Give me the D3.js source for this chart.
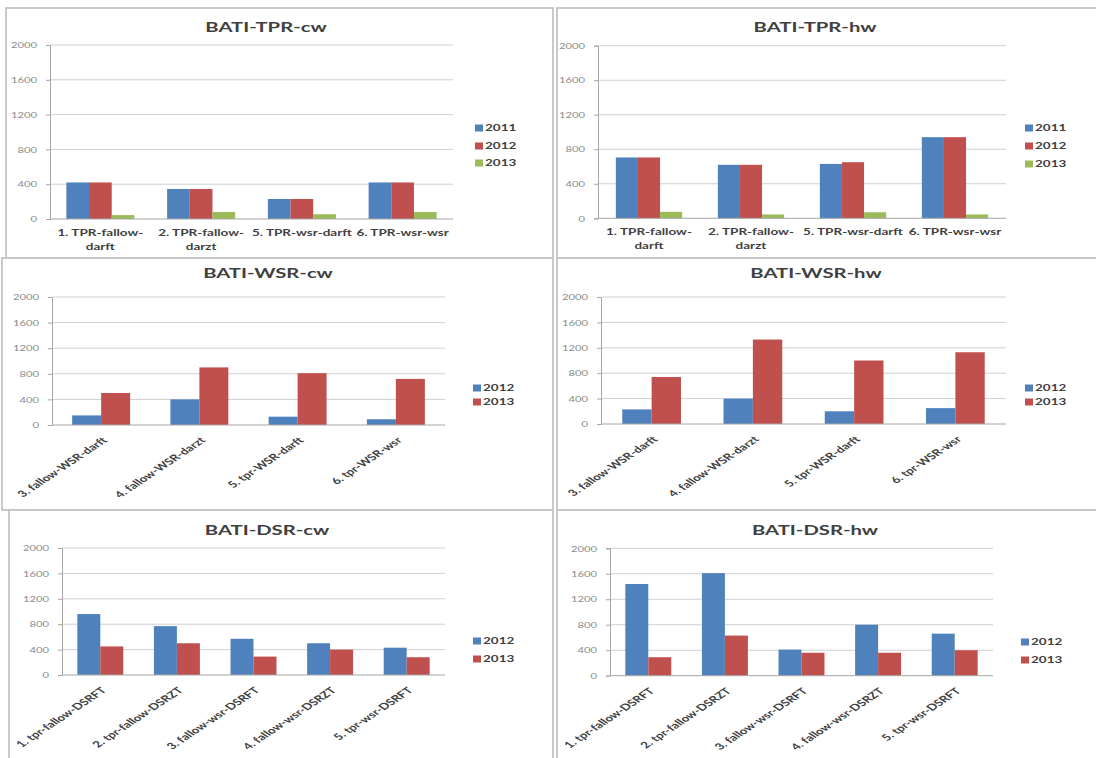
<!DOCTYPE html>
<html>
<head>
<meta charset="utf-8">
<script src="https://cdn.jsdelivr.net/npm/d3@7"></script>
<style>
  html, body { margin: 0; padding: 0; background: #fff; }
  svg { display: block; }
  text { font-family: Lato, "Open Sans", sans-serif; }
</style>
</head>
<body>
<svg id="chart" width="1096" height="758"></svg>
<script>
// ---------------- DATA ----------------
const yTicks = [0, 400, 800, 1200, 1600, 2000];

const tprCategories = ["1. TPR-fallow-darft", "2. TPR-fallow-darzt", "5.  TPR-wsr-darft", "6. TPR-wsr-wsr"];
const tprSeriesNames = ["2011", "2012", "2013"];
const tprCw2011 = [420, 345, 230, 420];
const tprCw2012 = [420, 345, 230, 420];
const tprCw2013 = [45, 80, 55, 80];
const tprHw2011 = [705, 620, 630, 940];
const tprHw2012 = [705, 620, 650, 940];
const tprHw2013 = [75, 45, 70, 45];

const wsrCategories = ["3. fallow-WSR-darft", "4. fallow-WSR-darzt", "5. tpr-WSR-darft", "6. tpr-WSR-wsr"];
const wsrSeriesNames = ["2012", "2013"];
const wsrCw2012 = [150, 400, 130, 90];
const wsrCw2013 = [500, 900, 810, 720];
const wsrHw2012 = [230, 400, 200, 250];
const wsrHw2013 = [740, 1330, 1000, 1130];

const dsrCategories = ["1. tpr-fallow-DSRFT", "2. tpr-fallow-DSRZT", "3. fallow-wsr-DSRFT", "4. fallow-wsr-DSRZT", "5. tpr-wsr-DSRFT"];
const dsrSeriesNames = ["2012", "2013"];
const dsrCw2012 = [960, 770, 570, 500, 430];
const dsrCw2013 = [450, 500, 290, 400, 280];
const dsrHw2012 = [1440, 1610, 410, 800, 660];
const dsrHw2013 = [290, 630, 360, 360, 400];

const titles = ["BATI-TPR-cw", "BATI-TPR-hw", "BATI-WSR-cw", "BATI-WSR-hw", "BATI-DSR-cw", "BATI-DSR-hw"];

// ---------------- LAYOUT / STYLE ----------------
const colors = ["#4F81BD", "#C0504D", "#9BBB59"];
const SX = 1.5; // horizontal stretch of the text (picture is stretched)

const panels = [
  { box: [6, 8, 553, 258], title: titles[0], tx: 266, ty: 32, plot: [50, 453, 45, 219], pad: 0.325,
    legX: 475, legY: [128, 146, 163], cats: tprCategories, names: tprSeriesNames,
    series: [tprCw2011, tprCw2012, tprCw2013], mode: "wrap" },
  { box: [557, 8, 1100, 258], title: titles[1], tx: 815, ty: 32, plot: [598, 1006, 45.7, 218.3], pad: 0.35,
    legX: 1025, legY: [128, 146, 164], cats: tprCategories, names: tprSeriesNames,
    series: [tprHw2011, tprHw2012, tprHw2013], mode: "wrap" },
  { box: [2, 258, 553, 510], title: titles[2], tx: 268, ty: 278, plot: [52, 445, 297, 425], pad: 0.41,
    legX: 473, legY: [388, 402], cats: wsrCategories, names: wsrSeriesNames,
    series: [wsrCw2012, wsrCw2013], mode: "rot" },
  { box: [557, 258, 1100, 510], title: titles[3], tx: 816, ty: 278, plot: [601, 1006, 297, 424], pad: 0.42,
    legX: 1025, legY: [388, 402], cats: wsrCategories, names: wsrSeriesNames,
    series: [wsrHw2012, wsrHw2013], mode: "rot" },
  { box: [9, 510, 553, 762], title: titles[4], tx: 267, ty: 535, plot: [62, 445, 548, 675], pad: 0.40,
    legX: 473, legY: [641, 659], cats: dsrCategories, names: dsrSeriesNames,
    series: [dsrCw2012, dsrCw2013], mode: "rot" },
  { box: [557, 510, 1100, 762], title: titles[5], tx: 815, ty: 535, plot: [610, 993, 548.3, 675.7], pad: 0.40,
    legX: 1021, legY: [642, 660], cats: dsrCategories, names: dsrSeriesNames,
    series: [dsrHw2012, dsrHw2013], mode: "rot" }
];

const svg = d3.select("#chart");

function stretched(sel, x, y, rot) {
  return sel.attr("transform", `translate(${x},${y}) scale(${SX},1)` + (rot ? ` rotate(${rot})` : ""));
}

panels.forEach(p => {
  const g = svg.append("g");
  const [bx0, by0, bx1, by1] = p.box;
  g.append("rect").attr("x", bx0).attr("y", by0).attr("width", bx1 - bx0).attr("height", by1 - by0)
    .attr("fill", "#fff").attr("stroke", "#C4C4C4").attr("stroke-width", 1.8);

  const [l, r, t, b] = p.plot;
  const y = d3.scaleLinear().domain([0, 2000]).range([b, t]);
  const x0 = d3.scaleBand().domain(p.cats).range([l, r]).paddingInner(p.pad).paddingOuter(p.pad / 2);
  const x1 = d3.scaleBand().domain(d3.range(p.series.length)).range([0, x0.bandwidth()]);

  // gridlines
  g.append("g").selectAll("line").data(yTicks.filter(v => v > 0)).join("line")
    .attr("x1", l).attr("x2", r).attr("y1", d => y(d)).attr("y2", d => y(d))
    .attr("stroke", "#CFCFCF").attr("stroke-width", 1);

  // y axis
  const yAxis = g.append("g").attr("transform", `translate(${l},0)`)
    .call(d3.axisLeft(y).tickValues(yTicks).tickSize(4).tickPadding(8).tickFormat(d3.format("d")));
  yAxis.select(".domain").attr("stroke", "#A6A6A6");
  yAxis.selectAll(".tick line").attr("stroke", "#A6A6A6");
  yAxis.selectAll(".tick text").each(function(d) {
    const s = d3.select(this);
    s.attr("x", null).attr("dy", null).attr("text-anchor", "end")
      .attr("font-size", 7.5).attr("fill", "#8A8A8A").attr("font-family", "Lato, sans-serif");
    stretched(s, -13, 2.7);
  });

  // bars
  p.series.forEach((vals, si) => {
    g.append("g").selectAll("rect").data(vals).join("rect")
      .attr("x", (d, i) => x0(p.cats[i]) + x1(si))
      .attr("width", x1.bandwidth())
      .attr("y", d => y(d))
      .attr("height", d => y(0) - y(d))
      .attr("fill", colors[si]);
  });

  // x axis
  g.append("line").attr("x1", l).attr("x2", r).attr("y1", b).attr("y2", b)
    .attr("stroke", "#A6A6A6").attr("stroke-width", 1);

  // category labels
  p.cats.forEach(c => {
    const cx = x0(c) + x0.bandwidth() / 2;
    if (p.mode === "wrap") {
      const k = c.indexOf("fallow-");
      const lines = k >= 0 ? [c.slice(0, k + 7), c.slice(k + 7)] : [c];
      lines.forEach((ln, li) => {
        const tx = g.append("text").text(ln).attr("text-anchor", "middle")
          .attr("font-size", 9).attr("font-weight", "bold").attr("fill", "#404040");
        stretched(tx, cx, b + 17 + li * 14);
      });
    } else {
      const tx = g.append("text").text(c).attr("text-anchor", "end")
        .attr("font-size", 9).attr("font-weight", "bold").attr("fill", "#404040");
      stretched(tx, cx + 7, b + 16, -45);
    }
  });

  // title
  const tt = g.append("text").text(p.title).attr("text-anchor", "middle")
    .attr("font-size", 13.5).attr("font-weight", "bold").attr("fill", "#404040");
  stretched(tt, p.tx, p.ty);

  // legend
  p.names.forEach((nm, i) => {
    const ly = p.legY[i];
    g.append("rect").attr("x", p.legX).attr("y", ly - 3.5).attr("width", 8).attr("height", 7).attr("fill", colors[i]);
    const lt = g.append("text").text(nm).attr("font-size", 9).attr("font-weight", "bold").attr("fill", "#404040");
    stretched(lt, p.legX + 10, ly + 3.3);
  });
});
</script>
</body>
</html>
